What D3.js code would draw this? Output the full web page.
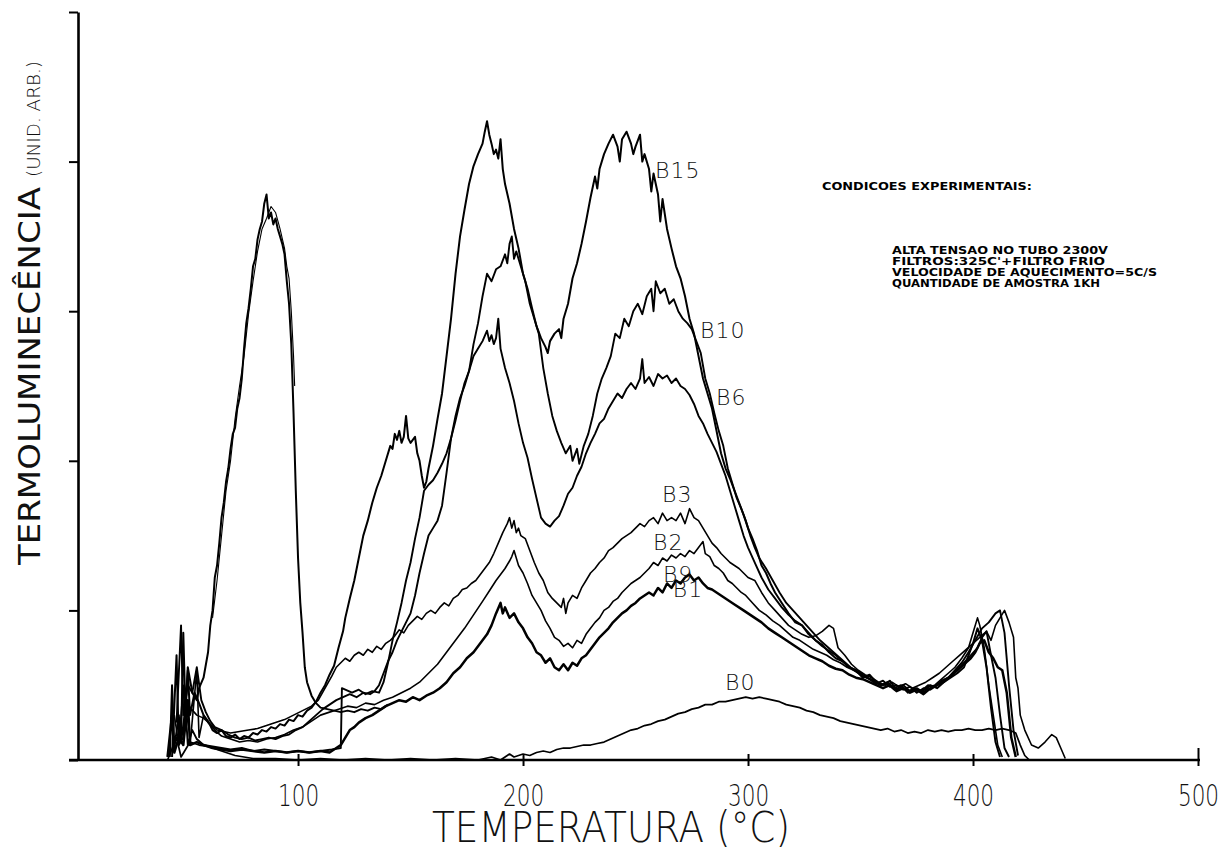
<!DOCTYPE html>
<html>
<head>
<meta charset="utf-8">
<script src="https://cdn.jsdelivr.net/npm/d3@7"></script>
<style>
  html, body { margin: 0; padding: 0; background: #fff; }
  svg { display: block; }
</style>
</head>
<body>
<svg id="chart" width="1228" height="852"></svg>
<script>
// temperature (°C), intensity (arb. units, 1 unit = one y tick)
const bEarly = [[43,0.02],[44,0.5],[45,0.08],[47,0.3],[48,0.12],[49,0.85],[50,0.3],[51,0.62],[53,0.45],[55,0.4],[56,0.48],[58,0.55],[60,0.72],[61,0.9],[62,1.0],[63,1.22],[64,1.3],[65,1.45],[66,1.62],[67,1.72],[68,1.86],[69,1.95],[70,2.08],[71,2.18],[72,2.22],[73,2.35],[74,2.42],[75,2.55],[76,2.75],[77,2.92],[78,3.02],[79,3.15],[80,3.3],[81,3.35],[82,3.48],[83,3.55],[84,3.6],[85,3.72],[86,3.78],[87,3.62],[88,3.66],[89,3.58],[90,3.62],[91,3.55],[92,3.5],[93,3.45],[94,3.38],[95,3.2],[96,3.05],[97,2.78],[98,2.32],[99,1.8],[100,1.35],[101,1.05],[102,0.85],[103,0.62],[104,0.52],[106,0.43],[108,0.38],[110,0.35],[113,0.34],[116,0.33],[119,0.32],[122,0.33],[125,0.32],[128,0.34],[131,0.33],[134,0.35],[137,0.34],[140,0.37]];
const bEarly2 = [[62,0.95],[64,1.2],[66,1.5],[68,1.8],[70,2.0],[72,2.28],[74,2.5],[76,2.7],[78,2.98],[80,3.2],[82,3.4],[84,3.55],[86,3.62],[88,3.7],[90,3.66],[92,3.55],[94,3.42],[95,3.3],[96,3.22],[97,3.0],[98,2.7],[98.5,2.5]];
const b15 = [[44,0.02],[46,0.7],[47,0.1],[49,0.15],[51,0.6],[52,0.3],[54,0.45],[56,0.38],[58,0.3],[60,0.26],[62,0.2],[64,0.18],[66,0.2],[68,0.16],[70,0.15],[72,0.17],[74,0.14],[76,0.16],[78,0.15],[80,0.18],[82,0.17],[84,0.2],[86,0.19],[88,0.22],[90,0.21],[92,0.24],[94,0.23],[96,0.27],[98,0.26],[100,0.3],[102,0.29],[104,0.33],[106,0.35],[108,0.39],[110,0.45],[112,0.5],[114,0.57],[116,0.63],[118,0.75],[120,0.86],[121,0.95],[123,1.08],[125,1.2],[127,1.35],[129,1.5],[131,1.6],[133,1.72],[135,1.82],[137,1.9],[139,2.0],[141,2.1],[142,2.08],[143,2.18],[144,2.14],[145,2.2],[146,2.12],[147,2.16],[148,2.3],[149,2.15],[150,2.12],[152,2.16],[153,2.05],[154,2.0],[155,1.9],[156,1.82],[157,1.86],[158,1.95],[160,2.1],[162,2.28],[164,2.45],[166,2.7],[168,2.95],[170,3.25],[172,3.5],[174,3.68],[176,3.85],[178,3.97],[180,4.05],[182,4.12],[183,4.2],[184,4.27],[185,4.18],[186,4.12],[187,4.05],[188,4.08],[189,4.02],[190,4.15],[191,3.95],[192,3.85],[194,3.72],[196,3.55],[198,3.42],[200,3.25],[202,3.15],[204,3.02],[206,2.9],[208,2.82],[210,2.76],[211,2.72],[212,2.8],[214,2.85],[216,2.88],[217,2.82],[218,2.95],[220,3.05],[222,3.22],[224,3.32],[226,3.45],[228,3.6],[230,3.76],[232,3.9],[233,3.82],[234,3.95],[236,4.05],[238,4.12],[240,4.18],[242,4.1],[243,4.0],[244,4.15],[246,4.2],[248,4.12],[249,4.05],[250,4.1],[252,4.18],[253,4.0],[254,4.05],[256,3.95],[257,3.8],[258,3.92],[260,3.78],[261,3.6],[262,3.75],[264,3.55],[266,3.42],[268,3.3],[270,3.22],[272,3.1],[274,2.95],[276,2.85],[278,2.7],[280,2.55],[282,2.45],[284,2.35],[286,2.2],[288,2.05],[290,1.95],[292,1.88],[294,1.8],[296,1.72],[298,1.64],[300,1.55],[302,1.48],[304,1.4],[306,1.3],[308,1.25],[310,1.18],[312,1.12],[315,1.05],[318,0.98],[321,0.92],[324,0.9],[327,0.84],[330,0.8],[333,0.77],[336,0.72],[339,0.68],[342,0.66],[345,0.62],[348,0.6],[351,0.55],[354,0.57],[357,0.52],[360,0.5],[363,0.53],[366,0.47],[369,0.5],[372,0.46],[375,0.48],[378,0.45],[381,0.5],[384,0.48],[387,0.52],[390,0.55],[393,0.58],[396,0.62],[398,0.7],[400,0.78],[402,0.88],[404,0.8],[406,0.62],[408,0.35],[410,0.12],[412,0.02]];
const b10 = [[48,0.12],[50,0.35],[51,0.1],[53,0.2],[55,0.14],[58,0.1],[62,0.09],[66,0.08],[70,0.07],[75,0.08],[80,0.06],[85,0.07],[90,0.06],[95,0.05],[100,0.06],[105,0.05],[110,0.06],[115,0.07],[119,0.08],[119.5,0.48],[121,0.47],[124,0.45],[127,0.47],[130,0.44],[133,0.46],[136,0.45],[138,0.52],[140,0.65],[142,0.8],[144,0.92],[146,1.05],[148,1.2],[150,1.32],[152,1.48],[154,1.62],[156,1.8],[158,1.84],[160,1.87],[162,1.92],[164,1.98],[166,2.05],[168,2.15],[170,2.27],[172,2.4],[174,2.52],[176,2.6],[178,2.78],[180,2.92],[182,3.1],[184,3.25],[186,3.2],[188,3.28],[190,3.3],[192,3.38],[193,3.32],[194,3.45],[195,3.5],[196,3.35],[197,3.4],[199,3.3],[201,3.2],[203,3.05],[205,2.95],[207,2.85],[209,2.62],[211,2.45],[213,2.3],[215,2.2],[217,2.12],[219,2.05],[221,2.1],[222,2.0],[224,2.08],[225,1.98],[227,2.1],[229,2.18],[231,2.3],[233,2.45],[235,2.55],[237,2.62],[239,2.7],[241,2.85],[243,2.82],[245,2.95],[247,2.9],[249,3.0],[251,3.05],[253,2.98],[255,3.1],[257,3.15],[258,3.0],[259,3.2],[261,3.12],[263,3.15],[265,3.05],[267,3.08],[269,3.0],[271,2.95],[273,2.92],[275,2.88],[277,2.8],[279,2.72],[281,2.55],[283,2.45],[285,2.32],[287,2.2],[289,2.1],[291,1.95],[293,1.85],[295,1.75],[297,1.68],[299,1.6],[301,1.5],[303,1.42],[305,1.35],[308,1.28],[311,1.2],[314,1.12],[317,1.05],[320,1.0],[323,0.95],[326,0.9],[329,0.85],[332,0.8],[335,0.76],[338,0.72],[341,0.68],[344,0.64],[347,0.6],[350,0.58],[353,0.55],[356,0.53],[359,0.5],[362,0.52],[365,0.48],[368,0.5],[371,0.45],[374,0.48],[377,0.46],[380,0.5],[383,0.49],[386,0.53],[389,0.55],[392,0.6],[395,0.65],[398,0.72],[401,0.8],[404,0.88],[407,0.92],[410,0.98],[412,1.0],[414,0.85],[416,0.5],[418,0.2],[420,0.03]];
const b6 = [[46,0.25],[48,0.9],[49,0.3],[51,0.5],[53,0.45],[55,0.62],[57,0.4],[59,0.32],[61,0.26],[63,0.22],[66,0.2],[69,0.17],[72,0.15],[75,0.14],[78,0.15],[81,0.13],[84,0.14],[87,0.15],[90,0.14],[93,0.16],[96,0.17],[99,0.2],[102,0.22],[105,0.26],[108,0.3],[111,0.34],[114,0.37],[117,0.4],[120,0.42],[123,0.44],[126,0.42],[129,0.45],[132,0.44],[134,0.46],[136,0.5],[138,0.58],[140,0.66],[142,0.72],[144,0.8],[146,0.86],[148,0.92],[150,0.98],[152,1.1],[154,1.25],[156,1.38],[158,1.5],[160,1.55],[162,1.6],[164,1.7],[166,1.92],[168,2.15],[170,2.3],[172,2.42],[174,2.5],[176,2.6],[178,2.7],[180,2.75],[182,2.8],[184,2.87],[185,2.8],[186,2.84],[187,2.78],[188,2.82],[189,2.95],[190,2.75],[192,2.62],[194,2.52],[196,2.4],[198,2.25],[200,2.12],[202,2.02],[204,1.88],[206,1.75],[208,1.62],[210,1.58],[212,1.56],[214,1.6],[216,1.63],[218,1.7],[220,1.78],[222,1.82],[224,1.9],[226,1.96],[228,2.05],[230,2.12],[232,2.18],[234,2.25],[236,2.28],[238,2.35],[240,2.4],[242,2.45],[244,2.42],[246,2.48],[248,2.52],[250,2.48],[252,2.55],[253,2.68],[254,2.52],[256,2.56],[258,2.5],[260,2.58],[262,2.55],[264,2.57],[266,2.52],[268,2.55],[270,2.5],[272,2.48],[274,2.44],[276,2.38],[278,2.3],[280,2.25],[282,2.18],[284,2.12],[286,2.06],[288,1.98],[290,1.9],[292,1.8],[294,1.7],[296,1.6],[298,1.5],[300,1.42],[303,1.32],[306,1.22],[309,1.14],[312,1.08],[315,1.02],[318,0.97],[321,0.93],[324,0.9],[327,0.85],[330,0.8],[333,0.76],[336,0.73],[339,0.7],[342,0.66],[345,0.62],[348,0.6],[351,0.56],[354,0.54],[357,0.51],[360,0.53],[363,0.49],[366,0.5],[369,0.47],[372,0.49],[375,0.45],[378,0.48],[381,0.47],[384,0.5],[387,0.52],[390,0.56],[393,0.6],[396,0.65],[399,0.7],[402,0.75],[404,0.82],[406,0.86],[408,0.7],[410,0.55],[412,0.3],[414,0.08],[416,0.02]];
const b3 = [[45,0.3],[47,0.1],[49,0.5],[50,0.2],[52,0.35],[55,0.3],[58,0.28],[61,0.24],[64,0.2],[67,0.19],[70,0.18],[74,0.19],[78,0.2],[82,0.21],[86,0.23],[90,0.25],[94,0.27],[98,0.3],[102,0.33],[106,0.36],[109,0.4],[112,0.48],[115,0.56],[117,0.62],[119,0.65],[121,0.68],[123,0.66],[125,0.7],[127,0.72],[129,0.7],[131,0.74],[133,0.72],[135,0.76],[137,0.74],[139,0.78],[141,0.8],[143,0.83],[145,0.87],[147,0.85],[149,0.9],[151,0.93],[153,0.96],[155,0.94],[157,0.98],[159,1.0],[161,0.98],[163,1.02],[165,1.05],[167,1.03],[169,1.08],[171,1.1],[173,1.14],[175,1.15],[177,1.18],[179,1.2],[181,1.24],[183,1.28],[185,1.32],[187,1.38],[189,1.45],[191,1.52],[193,1.58],[194,1.62],[195,1.55],[196,1.6],[197,1.52],[198,1.55],[199,1.5],[201,1.48],[203,1.4],[205,1.32],[207,1.25],[209,1.2],[211,1.12],[213,1.08],[215,1.05],[217,1.02],[218,1.08],[219,0.98],[220,1.05],[222,1.1],[224,1.08],[226,1.15],[228,1.2],[230,1.25],[232,1.28],[234,1.32],[236,1.35],[238,1.4],[240,1.42],[242,1.45],[244,1.48],[246,1.5],[248,1.52],[250,1.55],[252,1.58],[254,1.56],[256,1.6],[258,1.62],[260,1.58],[262,1.65],[264,1.6],[266,1.62],[268,1.6],[270,1.65],[272,1.58],[274,1.68],[276,1.62],[278,1.6],[280,1.55],[282,1.5],[284,1.45],[286,1.42],[288,1.38],[290,1.35],[292,1.32],[294,1.3],[296,1.28],[298,1.25],[300,1.22],[303,1.2],[306,1.12],[309,1.05],[312,1.0],[315,0.95],[318,0.9],[321,0.87],[324,0.84],[327,0.82],[330,0.83],[333,0.86],[336,0.9],[338,0.88],[340,0.75],[343,0.7],[346,0.64],[349,0.6],[352,0.57],[355,0.55],[358,0.52],[361,0.5],[364,0.52],[367,0.49],[370,0.51],[373,0.48],[376,0.5],[379,0.52],[382,0.55],[385,0.58],[388,0.62],[391,0.66],[394,0.7],[397,0.74],[400,0.78],[403,0.82],[406,0.86],[408,0.8],[410,0.9],[412,0.95],[414,1.0],[416,0.92],[418,0.82],[419,0.55],[420,0.48],[421,0.3],[423,0.2],[426,0.1],[429,0.08],[432,0.12],[435,0.17],[437,0.15],[439,0.08],[441,0.01]];
const b2 = [[52,0.1],[55,0.6],[56,0.15],[58,0.3],[60,0.25],[63,0.2],[66,0.16],[70,0.14],[74,0.12],[78,0.13],[82,0.12],[86,0.14],[90,0.15],[94,0.17],[98,0.2],[102,0.22],[106,0.26],[110,0.3],[114,0.32],[118,0.34],[122,0.36],[126,0.35],[130,0.38],[134,0.37],[138,0.4],[142,0.42],[146,0.45],[150,0.48],[154,0.52],[158,0.58],[162,0.64],[166,0.72],[170,0.8],[174,0.88],[178,0.97],[182,1.06],[185,1.13],[188,1.2],[190,1.24],[192,1.28],[194,1.33],[195,1.36],[196,1.4],[197,1.35],[198,1.3],[200,1.25],[202,1.18],[204,1.1],[206,1.05],[208,1.0],[210,0.93],[212,0.88],[214,0.82],[216,0.8],[218,0.76],[220,0.78],[222,0.75],[224,0.8],[226,0.78],[228,0.84],[230,0.88],[232,0.92],[234,0.95],[236,1.0],[238,1.02],[240,1.06],[242,1.08],[244,1.12],[246,1.15],[248,1.18],[250,1.2],[252,1.22],[254,1.25],[256,1.28],[258,1.32],[260,1.3],[262,1.35],[264,1.33],[266,1.37],[268,1.35],[270,1.38],[272,1.36],[274,1.4],[276,1.38],[278,1.42],[280,1.46],[281,1.38],[283,1.36],[285,1.3],[287,1.28],[289,1.25],[291,1.2],[293,1.18],[295,1.15],[297,1.12],[299,1.1],[302,1.05],[305,1.0],[308,0.97],[311,0.93],[314,0.9],[317,0.86],[320,0.82],[323,0.8],[326,0.77],[329,0.74],[332,0.72],[335,0.7],[338,0.67],[341,0.65],[344,0.62],[347,0.6],[350,0.57],[353,0.55],[356,0.52],[359,0.5],[362,0.51],[365,0.47],[368,0.49],[371,0.46],[374,0.48],[377,0.45],[380,0.49],[383,0.5],[386,0.54],[389,0.58],[392,0.62],[395,0.68],[398,0.75],[400,0.85],[402,0.95],[403,0.9],[405,0.75],[407,0.5],[409,0.3],[411,0.1],[413,0.02]];
const b1 = [[42,0.02],[44,0.3],[45,0.05],[47,0.15],[49,0.1],[51,0.4],[52,0.1],[55,0.12],[58,0.1],[62,0.08],[66,0.07],[70,0.06],[75,0.07],[80,0.06],[85,0.05],[90,0.06],[95,0.05],[100,0.06],[105,0.05],[110,0.06],[114,0.05],[117,0.08],[119,0.1],[121,0.15],[123,0.2],[125,0.22],[127,0.25],[130,0.28],[133,0.3],[136,0.33],[139,0.36],[142,0.38],[145,0.4],[148,0.39],[151,0.42],[154,0.4],[157,0.43],[160,0.45],[163,0.48],[166,0.52],[169,0.58],[172,0.62],[175,0.68],[178,0.72],[181,0.78],[184,0.84],[186,0.9],[188,0.98],[190,1.05],[191,0.98],[192,1.02],[194,0.95],[196,0.98],[198,0.92],[200,0.88],[202,0.82],[204,0.78],[206,0.72],[208,0.7],[210,0.65],[212,0.68],[214,0.62],[216,0.6],[218,0.64],[220,0.6],[222,0.65],[224,0.63],[226,0.68],[228,0.7],[230,0.74],[232,0.78],[234,0.82],[236,0.85],[238,0.88],[240,0.92],[242,0.95],[244,0.98],[246,1.0],[248,1.03],[250,1.05],[252,1.08],[254,1.1],[256,1.12],[258,1.1],[260,1.15],[262,1.12],[264,1.18],[266,1.15],[268,1.2],[270,1.18],[272,1.22],[274,1.24],[276,1.2],[278,1.22],[280,1.18],[282,1.15],[284,1.14],[286,1.12],[288,1.1],[290,1.08],[294,1.04],[298,1.0],[303,0.95],[306,0.92],[309,0.88],[312,0.85],[315,0.82],[318,0.79],[321,0.76],[324,0.73],[327,0.7],[330,0.68],[333,0.66],[336,0.63],[339,0.61],[342,0.6],[345,0.57],[348,0.55],[351,0.54],[354,0.52],[357,0.5],[360,0.48],[363,0.5],[366,0.46],[369,0.48],[372,0.45],[375,0.47],[378,0.44],[381,0.48],[384,0.5],[387,0.53],[390,0.56],[393,0.6],[396,0.64],[399,0.68],[401,0.72],[403,0.78],[405,0.8],[407,0.72],[409,0.68],[411,0.62],[413,0.6],[415,0.45],[417,0.15],[419,0.02]];
const b0 = [[42,0.0],[46,0.15],[48,0.02],[52,0.12],[56,0.1],[60,0.09],[64,0.07],[68,0.05],[72,0.03],[76,0.02],[80,0.01],[90,0.01],[100,0.0],[110,0.01],[120,0.0],[130,0.01],[140,0.0],[150,0.01],[160,0.0],[170,0.01],[180,0.0],[186,0.02],[190,0.0],[194,0.04],[196,0.02],[198,0.03],[200,0.04],[203,0.03],[206,0.05],[209,0.06],[212,0.05],[215,0.07],[218,0.08],[221,0.08],[224,0.09],[227,0.1],[230,0.1],[233,0.11],[236,0.12],[239,0.14],[242,0.16],[245,0.18],[248,0.2],[251,0.21],[254,0.23],[257,0.24],[260,0.26],[263,0.27],[266,0.29],[269,0.31],[272,0.32],[275,0.34],[278,0.35],[281,0.37],[284,0.37],[287,0.39],[290,0.39],[293,0.4],[296,0.41],[299,0.42],[302,0.41],[305,0.42],[308,0.41],[311,0.4],[314,0.39],[317,0.37],[320,0.36],[323,0.35],[326,0.33],[329,0.32],[332,0.3],[335,0.29],[338,0.28],[341,0.26],[344,0.25],[347,0.24],[350,0.23],[353,0.22],[356,0.21],[359,0.2],[362,0.21],[365,0.19],[368,0.2],[371,0.18],[374,0.19],[377,0.18],[380,0.2],[383,0.19],[386,0.2],[389,0.19],[392,0.2],[395,0.2],[398,0.21],[401,0.2],[404,0.2],[407,0.21],[410,0.2],[413,0.21],[416,0.2],[419,0.18],[421,0.1],[423,0.03],[425,0.0]];

const labelNames = ['B15', 'B10', 'B6', 'B3', 'B2', 'B9', 'B1', 'B0'];
const labelTemps = [258.7, 278.7, 285.8, 261.8, 257.8, 262.2, 266.6, 289.8];
const labelVals = [3.89, 2.82, 2.37, 1.725, 1.404, 1.19, 1.09, 0.468];

const xTickValues = [100, 200, 300, 400, 500];
const xTickLabels = ['100', '200', '300', '400', '500'];
const yTickValues = [0, 1, 2, 3, 4, 5];

const notes = [
  'ALTA TENSAO NO TUBO 2300V',
  "FILTROS:325C'+FILTRO FRIO",
  'VELOCIDADE DE AQUECIMENTO=5C/S',
  'QUANTIDADE DE AMOSTRA 1KH',
];
const noteWidths = [216, 213, 265, 208];

const series = [
  { data: bEarly, w: 2.0 },
  { data: bEarly2, w: 1.1 },
  { data: b0, w: 1.7 },
  { data: b1, w: 2.5 },
  { data: b2, w: 1.6 },
  { data: b3, w: 1.6 },
  { data: b6, w: 1.9 },
  { data: b10, w: 1.9 },
  { data: b15, w: 2.0 },
];

const svg = d3.select('#chart');
const thin = "'DejaVu Sans', sans-serif";

const x = d3.scaleLinear().domain([2.2, 500]).range([78, 1198]);
const y = d3.scaleLinear().domain([0, 5]).range([760, 12]);

// y axis: ticks only, no numbers
svg.append('g')
  .attr('transform', `translate(${x(2.2)},0)`)
  .call(d3.axisLeft(y).tickValues(yTickValues).tickSize(9).tickSizeOuter(0).tickFormat(''))
  .call((g) => g.select('.domain').attr('stroke', '#000').attr('stroke-width', 2.6))
  .call((g) => g.selectAll('.tick line').attr('stroke', '#000').attr('stroke-width', 2));

// x axis with crossing ticks
svg.append('g')
  .attr('transform', `translate(0,${y(0)})`)
  .call(d3.axisBottom(x).tickValues(xTickValues).tickSizeOuter(0)
    .tickFormat((d, i) => xTickLabels[i]))
  .call((g) => g.select('.domain')
    .attr('d', `M${x.range()[0] - 9},0H${x.range()[1] + 2}`)
    .attr('stroke', '#000').attr('stroke-width', 2.6))
  .call((g) => g.selectAll('.tick line')
    .attr('y1', (d) => (d === 500 ? -12 : -6)).attr('y2', 6)
    .attr('stroke', '#000').attr('stroke-width', 2))
  .call((g) => g.selectAll('.tick text')
    .attr('y', 46).attr('dy', 0)
    .attr('transform', 'scale(0.72,1)')
    .attr('fill', '#111')
    .style('font-family', thin)
    .style('font-weight', 200)
    .style('font-size', '30px'));

// curves
const line = d3.line()
  .x((d) => x(d[0]))
  .y((d) => y(d[1]));

svg.append('g')
  .selectAll('path')
  .data(series)
  .join('path')
  .attr('fill', 'none')
  .attr('stroke', '#000')
  .attr('stroke-width', (d) => d.w)
  .attr('stroke-linejoin', 'round')
  .attr('d', (d) => line(d.data));

// curve labels
svg.append('g')
  .selectAll('text')
  .data(labelNames)
  .join('text')
  .attr('x', (d, i) => x(labelTemps[i]))
  .attr('y', (d, i) => y(labelVals[i]))
  .attr('fill', '#111')
  .style('font-family', thin)
  .style('font-weight', 200)
  .style('font-size', '22px')
  .style('letter-spacing', '1px')
  .text((d) => d);

// axis titles
svg.append('text')
  .attr('x', 432).attr('y', 842)
  .attr('textLength', 358).attr('lengthAdjust', 'spacingAndGlyphs')
  .attr('fill', '#111')
  .style('font-family', thin).style('font-weight', 200).style('font-size', '42px')
  .text('TEMPERATURA (°C)');

svg.append('text')
  .attr('transform', 'translate(40,565) rotate(-90)')
  .attr('textLength', 378).attr('lengthAdjust', 'spacingAndGlyphs')
  .attr('fill', '#111')
  .style('font-family', thin).style('font-size', '30px')
  .text('TERMOLUMINECÊNCIA');

svg.append('text')
  .attr('transform', 'translate(40,177) rotate(-90)')
  .attr('textLength', 116).attr('lengthAdjust', 'spacingAndGlyphs')
  .attr('fill', '#111')
  .style('font-family', thin).style('font-weight', 200).style('font-size', '18px')
  .text('(UNID. ARB.)');

// experimental conditions
svg.append('text')
  .attr('x', 822).attr('y', 190)
  .attr('textLength', 210).attr('lengthAdjust', 'spacingAndGlyphs')
  .attr('fill', '#000')
  .style('font-family', thin).style('font-size', '10px').style('font-weight', 'bold')
  .text('CONDICOES EXPERIMENTAIS:');

svg.append('g')
  .selectAll('text')
  .data(notes)
  .join('text')
  .attr('x', 892)
  .attr('y', (d, i) => 253.5 + i * 11.2)
  .attr('textLength', (d, i) => noteWidths[i]).attr('lengthAdjust', 'spacingAndGlyphs')
  .attr('fill', '#000')
  .style('font-family', thin).style('font-size', '10px').style('font-weight', 'bold')
  .text((d) => d);
</script>
</body>
</html>
